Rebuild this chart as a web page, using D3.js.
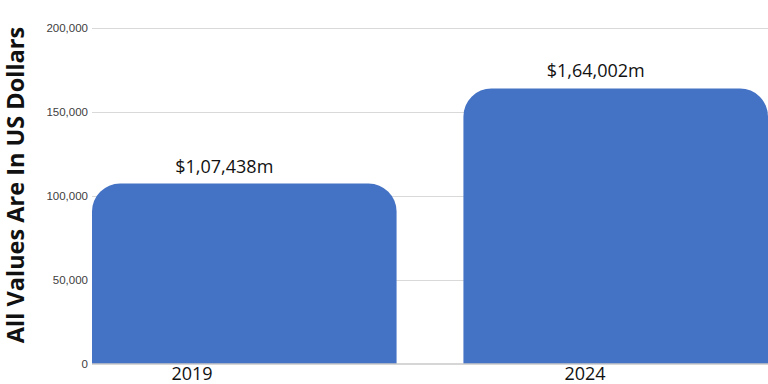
<!DOCTYPE html>
<html><head><meta charset="utf-8">
<script src="https://cdn.jsdelivr.net/npm/d3@7"></script>
<style>body{margin:0;background:#fff}svg{display:block}</style>
</head><body>
<svg id="c" width="768" height="384"></svg>
<script>
const years = ["2019", "2024"];
const values = [107438, 164002];
const valueLabels = ["$1,07,438m", "$1,64,002m"];
const yTicks = [0, 50000, 100000, 150000, 200000];
const yTitle = "All Values Are In US Dollars";

(function () {
const svg = d3.select("#c");
const mLeft = 92, mRight = 768, mTop = 28, mBottom = 364;
const x = d3.scaleBand().domain(years).range([mLeft, mRight]).paddingInner(0.18).paddingOuter(0);
const y = d3.scaleLinear().domain([0, 200000]).range([mBottom, mTop]);
const xl = d3.scalePoint().domain(years).range([192, 585]);

svg.append("g").selectAll("line").data(yTicks.filter(t => t > 0)).join("line")
  .attr("x1", mLeft).attr("x2", mRight).attr("y1", d => y(d)).attr("y2", d => y(d))
  .attr("stroke", "#d9d9d9").attr("stroke-width", 1).attr("shape-rendering", "crispEdges");

svg.append("g").selectAll("text").data(yTicks).join("text")
  .attr("x", 88).attr("y", d => y(d)).attr("dy", "0.35em").attr("text-anchor", "end")
  .attr("font-family", "Liberation Sans, Arial, sans-serif").attr("font-size", 11.5).attr("fill", "#404040")
  .text(d => d3.format(",")(d));

const r = 28;
function barPath(d, i) {
  const x0 = x(years[i]), w = x.bandwidth(), y0 = y(d), yb = y(0);
  const rr = Math.min(r, yb - y0, w / 2);
  return `M${x0},${yb}V${y0 + rr}A${rr},${rr} 0 0 1 ${x0 + rr},${y0}H${x0 + w - rr}A${rr},${rr} 0 0 1 ${x0 + w},${y0 + rr}V${yb}Z`;
}
svg.append("g").selectAll("path").data(values).join("path")
  .attr("d", barPath).attr("fill", "#4472C4");

svg.append("line").attr("x1", mLeft).attr("x2", mRight).attr("y1", y(0)).attr("y2", y(0))
  .attr("stroke", "#c8c8c8").attr("stroke-width", 1.5);

svg.append("g").selectAll("text").data(values).join("text")
  .attr("x", (d, i) => x(years[i]) + x.bandwidth() / 2 - 20).attr("y", d => y(d) - 11)
  .attr("text-anchor", "middle")
  .attr("font-family", "Open Sans, sans-serif").attr("font-size", 18).attr("fill", "#111")
  .text((d, i) => valueLabels[i]);

svg.append("g").selectAll("text").data(years).join("text")
  .attr("x", d => xl(d)).attr("y", 380).attr("text-anchor", "middle")
  .attr("font-family", "Open Sans, sans-serif").attr("font-size", 18).attr("fill", "#111")
  .text(d => d);

svg.append("text").attr("transform", "translate(24,185) rotate(-90)")
  .attr("text-anchor", "middle").attr("font-family", "Open Sans, sans-serif")
  .attr("font-weight", "bold").attr("font-size", 23.5).attr("fill", "#111")
  .text(yTitle);
})();
</script>
</body></html>
